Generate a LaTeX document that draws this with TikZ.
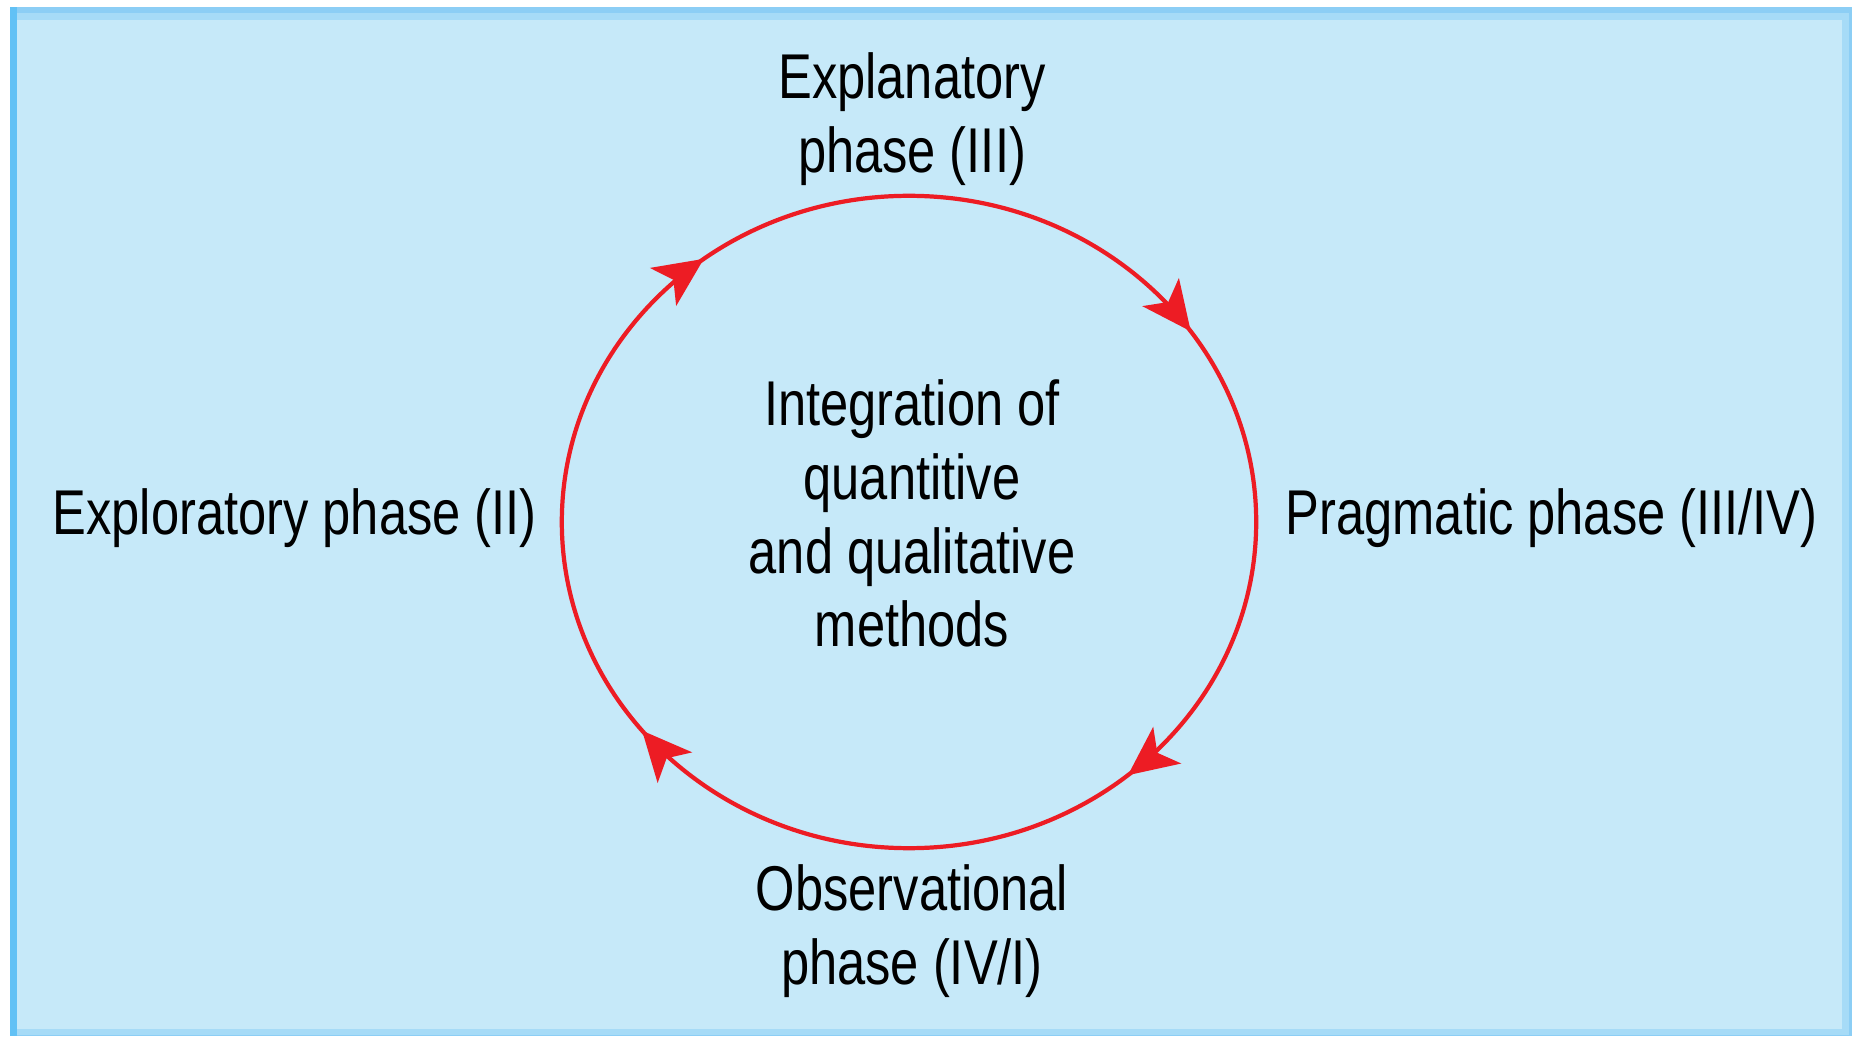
\documentclass[tikz,border=0pt]{standalone}
\usepackage{fontspec}
\setmainfont{Liberation Sans}[FakeStretch=0.8]
\usetikzlibrary{arrows.meta,decorations.markings}
\definecolor{bgfill}{HTML}{C6E9F9}
\definecolor{frameout}{HTML}{8CCEF5}
\definecolor{framein}{HTML}{A6DBF7}
\definecolor{frameleft}{HTML}{62C1F5}
\definecolor{cycred}{HTML}{ED1C24}
\tikzset{
  cychead/.tip={Stealth[length=14pt,width=13pt,inset=3.5pt]},
  lbl/.style={font=\fontsize{18}{21}\selectfont, inner sep=0pt, align=center, text=black},
  cycline/.style={draw=cycred, line width=1.2pt}
}
\begin{document}
\begin{tikzpicture}[x=0.01cm,y=0.01cm]
\useasboundingbox (0,0) rectangle (1852,1036);
\fill[white] (0,0) rectangle (1852,1036);
\fill[frameout] (10,0) rectangle (1852,1029);
\fill[framein] (17,1) rectangle (1849,1023);
\fill[bgfill] (17,7) rectangle (1842,1016);
\fill[frameleft] (10,0) rectangle (17,1029);

\coordinate (c) at (909,514);
\draw[cycline, postaction={decorate}, decoration={markings,
    mark=at position 0.139 with {\arrow{cychead}},
    mark=at position 0.392 with {\arrow{cychead}},
    mark=at position 0.647 with {\arrow{cychead}},
    mark=at position 0.903 with {\arrow{cychead}}}]
  (c) ++(3.47cm,0) arc[start angle=0, end angle=-360, x radius=3.47cm, y radius=3.26cm];

\node[lbl, anchor=north] (top) at (912,990) {\strut Explanatory\\phase (III)};
\node[lbl, anchor=north] (mid) at (912,663) {\strut Integration of\\quantitive\\and qualitative\\methods};
\node[lbl, anchor=north] (bot) at (912,178) {\strut Observational\\phase (IV/I)};
\node[lbl, anchor=base west] (left) at (52,501) {Exploratory phase (II)};
\node[lbl, anchor=base west] (right) at (1285,501) {Pragmatic phase (III/IV)};
\end{tikzpicture}
\end{document}
